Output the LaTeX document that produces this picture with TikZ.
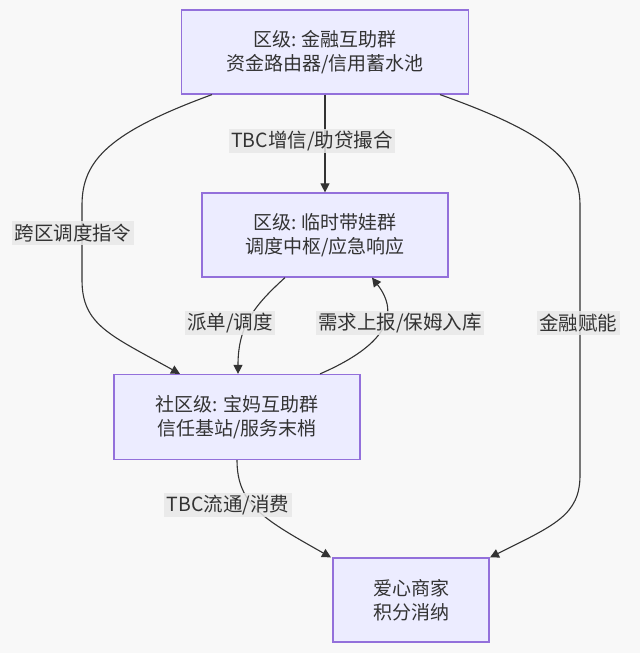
\documentclass[tikz,border=0pt]{standalone}
\usepackage{fontspec}
\setmainfont{Noto Sans CJK SC}
\usetikzlibrary{arrows.meta,calc}
\definecolor{boxfill}{HTML}{ECECFF}
\definecolor{boxline}{HTML}{9370DB}
\definecolor{ink}{HTML}{333333}
\definecolor{paper}{HTML}{F8F8F8}
\definecolor{tagfill}{HTML}{E8E8E8}
\tikzset{
  group/.style={draw=boxline,fill=boxfill,line width=1.2pt,align=center,
    text=ink,inner sep=0pt,font=\fontsize{19}{23.5}\selectfont},
  flow/.style={draw=ink,line width=1.1pt,-{Triangle[length=9pt,width=9pt]}},
  tag/.style={fill=tagfill,fill opacity=0.85,text opacity=1,text=ink,
    inner sep=2.5pt,font=\fontsize{19.5}{22}\selectfont}
}

\begin{document}
\begin{tikzpicture}[x=1pt,y=-1pt]
    \useasboundingbox[fill=paper] (0,0) rectangle (640,653);
    \node[group,minimum width=287pt,minimum height=84pt] (fin) at (325,52) {区级: 金融互助群\\资金路由器/信用蓄水池};
    \node[group,minimum width=246pt,minimum height=84pt] (hub) at (325,235) {区级: 临时带娃群\\调度中枢/应急响应};
    \node[group,minimum width=246pt,minimum height=85pt] (moms) at (237,417) {社区级: 宝妈互助群\\信任基站/服务末梢};
    \node[group,minimum width=156pt,minimum height=84pt] (shop) at (411,600) {爱心商家\\积分消纳};

    % connectors
    \draw[flow] (fin.south) -- (hub.north);
    \draw[flow] ($(fin.south)+(-113,0)$) .. controls (110,132) and (82,160) .. (82,205)
      -- (82,280) .. controls (82,325) and (110,335) .. ($(moms.north)+(-57,0)$);
    \draw[flow] ($(fin.south)+(115,0)$) .. controls (545,132) and (580,160) .. (580,205)
      -- (580,475) .. controls (580,515) and (555,525) .. ($(shop.north)+(79,0)$);
    \draw[flow] ($(hub.south)+(-40,0)$) .. controls (255,305) and (238,325) .. ($(moms.north)+(1,0)$);
    \draw[flow] ($(moms.north)+(83,0)$) .. controls (375,350) and (405,320) .. ($(hub.south)+(47,0)$);
    \draw[flow] (moms.south) .. controls (237,505) and (265,520) .. ($(shop.north)+(-80,0)$);

    % labels
    \node[tag] (l1) at (312,141) {TBC增信/助贷撮合};
    \node[tag] (l2) at (73,233) {跨区调度指令};
    \node[tag] (l3) at (578,323) {金融赋能};
    \node[tag] (l4) at (230,323) {派单/调度};
    \node[tag] (l5) at (400,323) {需求上报/保姆入库};
    \node[tag] (l6) at (228,505) {TBC流通/消费};
\end{tikzpicture}
\end{document}
